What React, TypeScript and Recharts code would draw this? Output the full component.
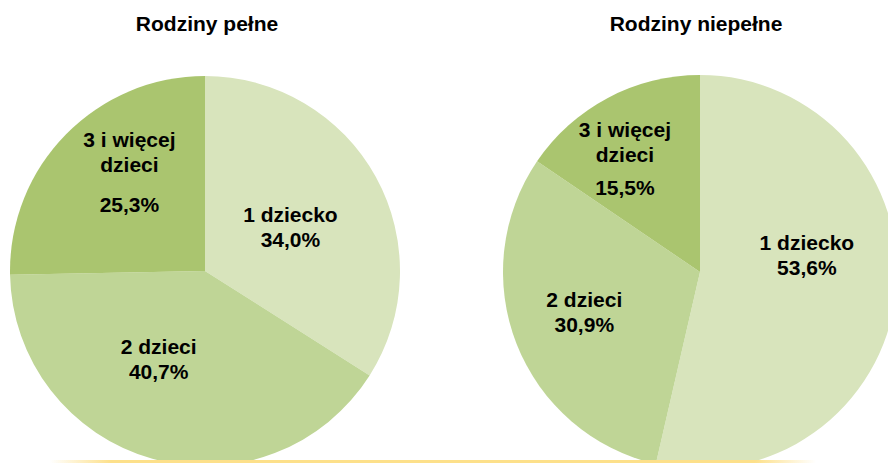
import { PieChart, Pie, Cell } from 'recharts';

const CATEGORIES = ['1 dziecko', '2 dzieci', '3 i więcej dzieci'];
const CATEGORY_LINES = [['1 dziecko'], ['2 dzieci'], ['3 i więcej', 'dzieci']];
const FULL_FAMILIES = [34.0, 40.7, 25.3];
const SINGLE_PARENT = [53.6, 30.9, 15.5];
const TITLES = ['Rodziny pełne', 'Rodziny niepełne'];

const SLICE_COLORS = ['#d8e4bc', '#bfd596', '#aac56f'];
const FONT = '"Liberation Sans", Arial, sans-serif';

// label nudges from the default mid-radius spot, per slice (Excel moved them by hand)
const FULL_OFFSETS = [
  [0, -2],
  [-20, -11],
  [-6, -56],
];
const SINGLE_OFFSETS = [
  [9, -33],
  [-24, -1],
  [-29, -48],
];

const fullData = CATEGORIES.map((name, i) => ({ name, value: FULL_FAMILIES[i] }));
const singleData = CATEGORIES.map((name, i) => ({ name, value: SINGLE_PARENT[i] }));

const fmtPct = (v: number) => v.toFixed(1).replace('.', ',') + '%';

function makeLabel(offsets: number[][], pctGap: number) {
  return (props: any) => {
    const { cx, cy, midAngle, outerRadius, index, value } = props;
    const rad = Math.PI / 180;
    const r = outerRadius * 0.5;
    const x = cx + r * Math.cos(-midAngle * rad) + offsets[index][0];
    const y = cy + r * Math.sin(-midAngle * rad) + offsets[index][1];
    const lines = CATEGORY_LINES[index];
    const gap = lines.length > 1 ? pctGap : 25;
    return (
      <text
        x={x}
        y={y}
        textAnchor="middle"
        fill="#000"
        style={{ fontFamily: FONT, fontSize: 21, fontWeight: 700 }}
      >
        {lines.map((l, i) => (
          <tspan key={l} x={x} dy={i === 0 ? 0 : 25}>
            {l}
          </tspan>
        ))}
        <tspan x={x} dy={gap}>
          {fmtPct(value)}
        </tspan>
      </text>
    );
  };
}

export default function App() {
  return (
    <div style={{ position: 'relative', width: 888, height: 463, background: '#fff', overflow: 'hidden' }}>
      <style>{'body{margin:0}'}</style>
      <PieChart width={888} height={463} margin={{ top: 0, right: 0, bottom: 0, left: 0 }}>
        <Pie
          data={fullData}
          dataKey="value"
          nameKey="name"
          cx={205}
          cy={271}
          outerRadius={195}
          startAngle={90}
          endAngle={-270}
          stroke="none"
          label={makeLabel(FULL_OFFSETS, 40)}
          labelLine={false}
          isAnimationActive={false}
        >
          {fullData.map((d, i) => (
            <Cell key={d.name} fill={SLICE_COLORS[i]} />
          ))}
        </Pie>
        <Pie
          data={singleData}
          dataKey="value"
          nameKey="name"
          cx={700}
          cy={272}
          outerRadius={197}
          startAngle={90}
          endAngle={-270}
          stroke="none"
          label={makeLabel(SINGLE_OFFSETS, 33)}
          labelLine={false}
          isAnimationActive={false}
        >
          {singleData.map((d, i) => (
            <Cell key={d.name} fill={SLICE_COLORS[i]} />
          ))}
        </Pie>
      </PieChart>
      {TITLES.map((t, i) => (
        <div
          key={t}
          style={{
            position: 'absolute',
            top: 12,
            left: i === 0 ? 107 : 596,
            width: 200,
            textAlign: 'center',
            fontFamily: FONT,
            fontSize: 21,
            fontWeight: 700,
            lineHeight: '24px',
            color: '#000',
          }}
        >
          {t}
        </div>
      ))}
      <div
        style={{
          position: 'absolute',
          top: 460,
          left: 50,
          width: 766,
          height: 3,
          background:
            'linear-gradient(to right, rgba(253,226,140,0) 0%, #fde08a 8%, #fde08a 92%, rgba(253,226,140,0) 100%)',
        }}
      />
    </div>
  );
}
